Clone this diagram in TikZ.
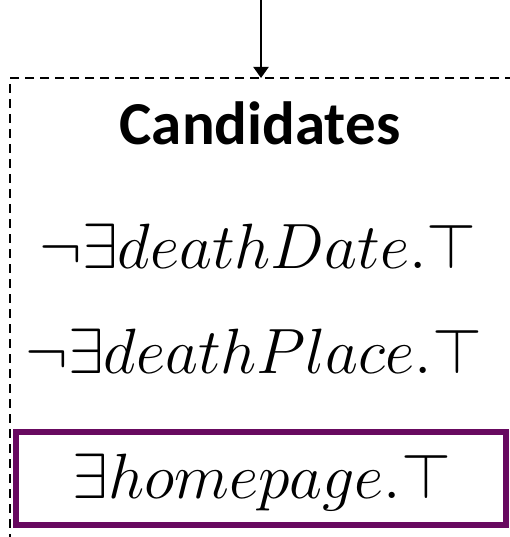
\RequirePackage{fix-cm}
\documentclass[tikz,border=0pt]{standalone}
\usepackage{amsmath}
\usepackage{fontspec}
\newfontfamily\candfont{Carlito}
\usetikzlibrary{arrows.meta}
\definecolor{boxpurple}{RGB}{104,10,96}

\begin{document}
\begin{tikzpicture}[x=1pt, y=-1pt, every node/.style={inner sep=0pt, outer sep=0pt}]
    \useasboundingbox (0,0) rectangle (510,537);
    \clip (0,0) rectangle (510,537);

    % Dashed candidate frame and incoming arrow
    \node[draw, line width=1.5pt, dash pattern=on 9pt off 6pt, minimum width=502pt, minimum height=520pt, anchor=north] (cand) at (261,78) {};
    \coordinate (in) at (261,0);
    \draw[-{Triangle[length=11pt,width=15pt]}, line width=2pt] (in) -- (cand.north);

    % Title and candidate expressions
    \node[anchor=base, font=\candfont\bfseries\fontsize{61}{61}\selectfont] (title) at (260,145) {Candidates};
    \node[anchor=base, font=\fontsize{64}{64}\selectfont] (c-1) at (258,268) {$\neg\exists deathDate.\top$};
    \node[anchor=base, font=\fontsize{64}{64}\selectfont] (c-2) at (254,373) {$\neg\exists deathPlace.\top$};
    \node[anchor=base, font=\fontsize{64}{64}\selectfont] (c-3) at (262,498) {$\exists homepage.\top$};

    % Selected candidate
    \node[draw=boxpurple, line width=6pt, minimum width=490pt, minimum height=93pt] (pick) at (261,478.5) {};
\end{tikzpicture}
\end{document}
